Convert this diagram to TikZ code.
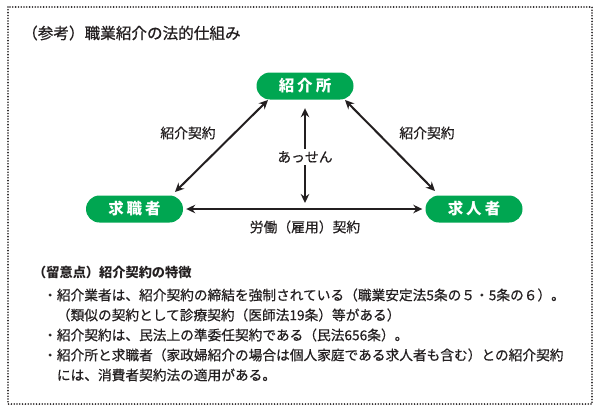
\documentclass[tikz,border=0pt]{standalone}
\usepackage{fontspec}
\setmainfont{Noto Sans CJK JP}
\usetikzlibrary{arrows.meta}
\definecolor{pillgreen}{RGB}{0,166,81}
\definecolor{ink}{RGB}{35,31,32}
\newcommand{\medwt}{\addfontfeature{FakeBold=0.5}}
\begin{document}
\begin{tikzpicture}[x=1pt,y=-1pt,
  pill/.style={fill=pillgreen, rounded corners=13.5pt, minimum width=97pt,
    minimum height=27pt, text=white, inner sep=0pt,
    font=\fontsize{15.5}{15.5}\selectfont\bfseries},
  lbl/.style={text=ink, inner sep=2pt, font=\fontsize{13.8}{13.8}\selectfont\medwt},
  note/.style={text=ink, inner sep=0pt, anchor=west, font=\fontsize{13.7}{13.7}\selectfont\medwt},
  both/.style={draw=ink, line width=2pt,
    {Stealth[length=9pt,width=8.5pt]}-{Stealth[length=9pt,width=8.5pt]}},
  single/.style={draw=ink, line width=2pt, -{Stealth[length=9pt,width=8.5pt]}},
  frame/.style={draw=ink, line width=1.8pt, line cap=round, dash pattern=on 0pt off 2.8pt}
]
\useasboundingbox (0,0) rectangle (600,413);
\draw[frame] (8,7) rectangle (592,404);

\node[text=ink, inner sep=0pt, anchor=west, font=\fontsize{15.6}{15.6}\selectfont\addfontfeature{FakeBold=0.8}] (title) at (22,33) {（参考）職業紹介の法的仕組み};

\node[pill] (shokai) at (305,86) {紹\kern3pt 介\kern3pt 所};
\node[pill] (kyushoku) at (134.5,209) {求\kern3pt 職\kern3pt 者};
\node[pill] (kyujin) at (474,209) {求\kern3pt 人\kern3pt 者};

\coordinate (l1) at (268,100);
\coordinate (l2) at (175,192);
\coordinate (r1) at (345,100);
\coordinate (r2) at (435,191);
\coordinate (vbot) at (305,203);

\draw[both] (l1) -- (l2);
\draw[both] (r1) -- (r2);
\draw[both, shorten <=3pt, shorten >=3pt] (kyushoku.east) -- (kyujin.west);

\node[lbl] (assen) at (305,157) {あっせん};
\draw[single, shorten >=8.5pt] (assen.north) -- (shokai.south);
\draw[single] (assen.south) -- (vbot);

\node[lbl] (keiyakuL) at (188,133) {紹介契約};
\node[lbl] (keiyakuR) at (427,133) {紹介契約};
\node[lbl] (rodo) at (305,227) {労働（雇用）契約};

\node[note, font=\fontsize{13.2}{13.2}\selectfont\bfseries] (nhead) at (33,272) {（留意点）紹介契約の特徴};
\node[note] (n1) at (43,295) {・紹介業者は、紹介契約の締結を強制されている（職業安定法5条の５・5条の６）。};
\node[note] (n2) at (56.7,315) {（類似の契約として診療契約（医師法19条）等がある）};
\node[note] (n3) at (43,335) {・紹介契約は、民法上の準委任契約である（民法656条）。};
\node[note] (n4) at (43,355) {・紹介所と求職者（家政婦紹介の場合は個人家庭である求人者も含む）との紹介契約};
\node[note] (n5) at (56.7,375) {には、消費者契約法の適用がある。};
\end{tikzpicture}
\end{document}
